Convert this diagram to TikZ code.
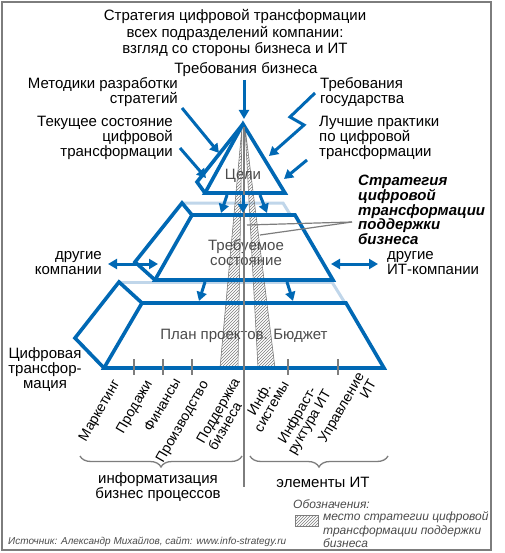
\documentclass[tikz,border=0pt]{standalone}
\usepackage{fontspec}
\setmainfont{Liberation Sans}
\usetikzlibrary{arrows.meta,patterns,decorations.pathreplacing}
\definecolor{pblue}{RGB}{0,104,180}
\definecolor{plight}{RGB}{192,214,234}
\definecolor{pgray}{RGB}{125,125,125}
\definecolor{ptext}{RGB}{75,75,75}
\begin{document}
\begin{tikzpicture}[x=1pt,y=-1pt,
  shapeline/.style={draw=pblue,line width=3.6pt,line join=miter},
  backline/.style={draw=plight,line width=3pt},
  blarrow/.style={draw=pblue,line width=3pt,-{Triangle[length=9pt,width=10pt]}},
  dblarrow/.style={draw=pblue,line width=3pt,{Triangle[length=9pt,width=10pt]}-{Triangle[length=9pt,width=10pt]}},
  band/.style={draw=pgray,line width=0.6pt,pattern=north east lines,pattern color=pgray},
  lbl/.style={font=\fontsize{15}{15}\selectfont,inner sep=0pt},
  inlbl/.style={font=\fontsize{15}{15}\selectfont,inner sep=0pt,text=ptext},
  rlbl/.style={font=\fontsize{14}{14}\selectfont,inner sep=0pt,rotate=60},
  tick/.style={draw=pgray,line width=1.3pt},
  pointer/.style={draw=pgray,line width=1.2pt},
  brc/.style={draw=pgray,line width=1.3pt,decorate,decoration={brace,mirror,amplitude=11pt}}
]
\useasboundingbox (0,0) rectangle (504,553);
\fill[white] (0,0) rectangle (504,553);
\draw[pgray,line width=2pt] (2,2) rectangle (491,550);

% back (hidden) edges
\draw[backline] (182,203) -- (283,203) -- (345,303);
\draw[backline] (118,282) -- (333,282);

% white fills of the blocks
\fill[white] (243,124) -- (205,193) -- (285,193) -- cycle;
\fill[white] (192,215) -- (295,215) -- (333,280) -- (155,280) -- cycle;
\fill[white] (142,303) -- (346,303) -- (384,368) -- (104,368) -- cycle;

% hatched bands
\draw[band] (242,127) -- (238,368) -- (220,368) -- cycle;
\draw[band] (245,127) -- (258,368) -- (275,368) -- cycle;

% texts inside blocks
\node[inlbl] (goals) at (243,176) {Цели};
\node[inlbl,align=center,font=\fontsize{15}{15}\selectfont] (state) at (246,253) {Требуемое\\состояние};
\node[inlbl] (plan) at (244,336) {План проектов. Бюджет};

% blocks
\draw[shapeline] (243,124) -- (205,193) -- (285,193) -- cycle;
\draw[shapeline] (243,124) -- (197,182) -- (205,193);
\draw[shapeline] (192,215) -- (295,215) -- (333,280) -- (155,280) -- cycle;
\draw[shapeline] (192,215) -- (182,203) -- (135,262) -- (155,280);
\draw[shapeline] (142,303) -- (346,303) -- (384,368) -- (104,368) -- cycle;
\draw[shapeline] (142,303) -- (119,282) -- (75,338) -- (104,368);

% ticks
\foreach \tx in {134,163,192,288,338} \draw[tick] (\tx,359) -- (\tx,375);

% central divider
\draw[pgray,line width=1.4pt] (244,127) -- (244,487);

% title
\node[lbl,align=center,font=\fontsize{15}{16.5}\selectfont] (title) at (235,33)
  {Стратегия цифровой трансформации\\всех подразделений компании:\\взгляд со стороны бизнеса и ИТ};

% outside labels
\node[lbl] (biz) at (246,70) {Требования бизнеса};
\node[lbl,align=right,anchor=east] (meth) at (178,92) {Методики разработки\\стратегий};
\node[lbl,align=left,anchor=west] (gov) at (320,92) {Требования\\государства};
\node[lbl,align=right,anchor=east] (cur) at (173,138) {Текущее состояние\\цифровой\\трансформации};
\node[lbl,align=left,anchor=west] (best) at (319,138) {Лучшие практики\\по цифровой\\трансформации};
\node[lbl,align=left,anchor=west,font=\fontsize{15}{14.8}\selectfont\bfseries\itshape] (strat) at (358,210)
  {Стратегия\\цифровой\\трансформации\\поддержки\\бизнеса};
\node[lbl,align=right,anchor=east] (oth) at (102,263) {другие\\компании};
\node[lbl,align=left,anchor=west] (othit) at (387,263) {другие\\ИТ-компании};
\node[lbl,align=center] (dt) at (45,370) {Цифровая\\трансфор-\\мация};

% arrows into the top
\coordinate (bizS) at (244,80);   \coordinate (bizE) at (244,119);
\coordinate (methS) at (182,108); \coordinate (methE) at (219,153);
\coordinate (curS) at (180,148);  \coordinate (curE) at (206,178);
\coordinate (govS) at (315,93);   \coordinate (govA) at (290,117);
\coordinate (govB) at (304,125);  \coordinate (govE) at (269,156);
\coordinate (bestS) at (307,160); \coordinate (bestE) at (284,179);
\draw[blarrow] (bizS) -- (bizE);
\draw[blarrow] (methS) -- (methE);
\draw[blarrow] (curS) -- (curE);
\draw[blarrow,line join=miter] (govS) -- (govA) -- (govB) -- (govE);
\draw[blarrow] (bestS) -- (bestE);

% arrows between levels
\coordinate (g1) at (227,195); \coordinate (s1) at (221,213);
\coordinate (g2) at (243,195); \coordinate (s2) at (243,213);
\coordinate (g3) at (260,195); \coordinate (s3) at (267,213);
\draw[blarrow] (g1) -- (s1);
\draw[blarrow] (g2) -- (s2);
\draw[blarrow] (g3) -- (s3);
\coordinate (m1) at (205,282); \coordinate (p1) at (199,301);
\coordinate (m2) at (287,282); \coordinate (p2) at (293,301);
\draw[blarrow] (m1) -- (p1);
\draw[blarrow] (m2) -- (p2);

% double arrows
\coordinate (dl1) at (108,264); \coordinate (dl2) at (158,264);
\coordinate (dr1) at (331,264); \coordinate (dr2) at (378,264);
\draw[dblarrow] (dl1) -- (dl2);
\draw[dblarrow] (dr1) -- (dr2);

% pointers
\coordinate (ptr) at (352,222);
\coordinate (ptrA) at (247,225);
\coordinate (ptrB) at (260,235);
\draw[pointer] (ptr) -- (ptrA);
\draw[pointer] (ptr) -- (ptrB);

% rotated labels
\node[rlbl] (mk) at (100,411) {Маркетинг};
\node[rlbl] (pr) at (135,407) {Продажи};
\node[rlbl] (fn) at (162,405) {Финансы};
\node[rlbl] (prd) at (183,422) {Производство};
\node[rlbl,align=left] (sup) at (224,414) {Поддержка\\бизнеса};
\node[rlbl,align=center] (inf) at (265,403) {Инф.\\системы};
\node[rlbl,align=center] (infr) at (304,419) {Инфраст-\\руктура ИТ};
\node[rlbl,align=right] (mgt) at (347,411) {Управление\\ИТ};

% braces
\coordinate (b1a) at (80,456); \coordinate (b1b) at (242,456);
\coordinate (b2a) at (250,456); \coordinate (b2b) at (388,456);
\draw[brc] (b1a) -- (b1b);
\draw[brc] (b2a) -- (b2b);
\node[lbl,align=center] (infz) at (158,487) {информатизация\\бизнес процессов};
\node[lbl] (itel) at (323,482) {элементы ИТ};

% legend
\node[lbl,anchor=west,font=\fontsize{12}{12}\selectfont\itshape,text=ptext] (leg) at (293,504) {Обозначения:};
\draw[band] (295,515) rectangle (318,526);
\node[lbl,anchor=west,align=left,font=\fontsize{12}{13.5}\selectfont\itshape,text=ptext] (legt) at (323,530)
  {место стратегии цифровой\\трансформации поддержки\\бизнеса};

% source
\node[lbl,anchor=west,font=\fontsize{10}{10}\selectfont\itshape,text=ptext] (src) at (8,542)
  {Источник: Александр Михайлов, сайт: www.info-strategy.ru};
\end{tikzpicture}
\end{document}
